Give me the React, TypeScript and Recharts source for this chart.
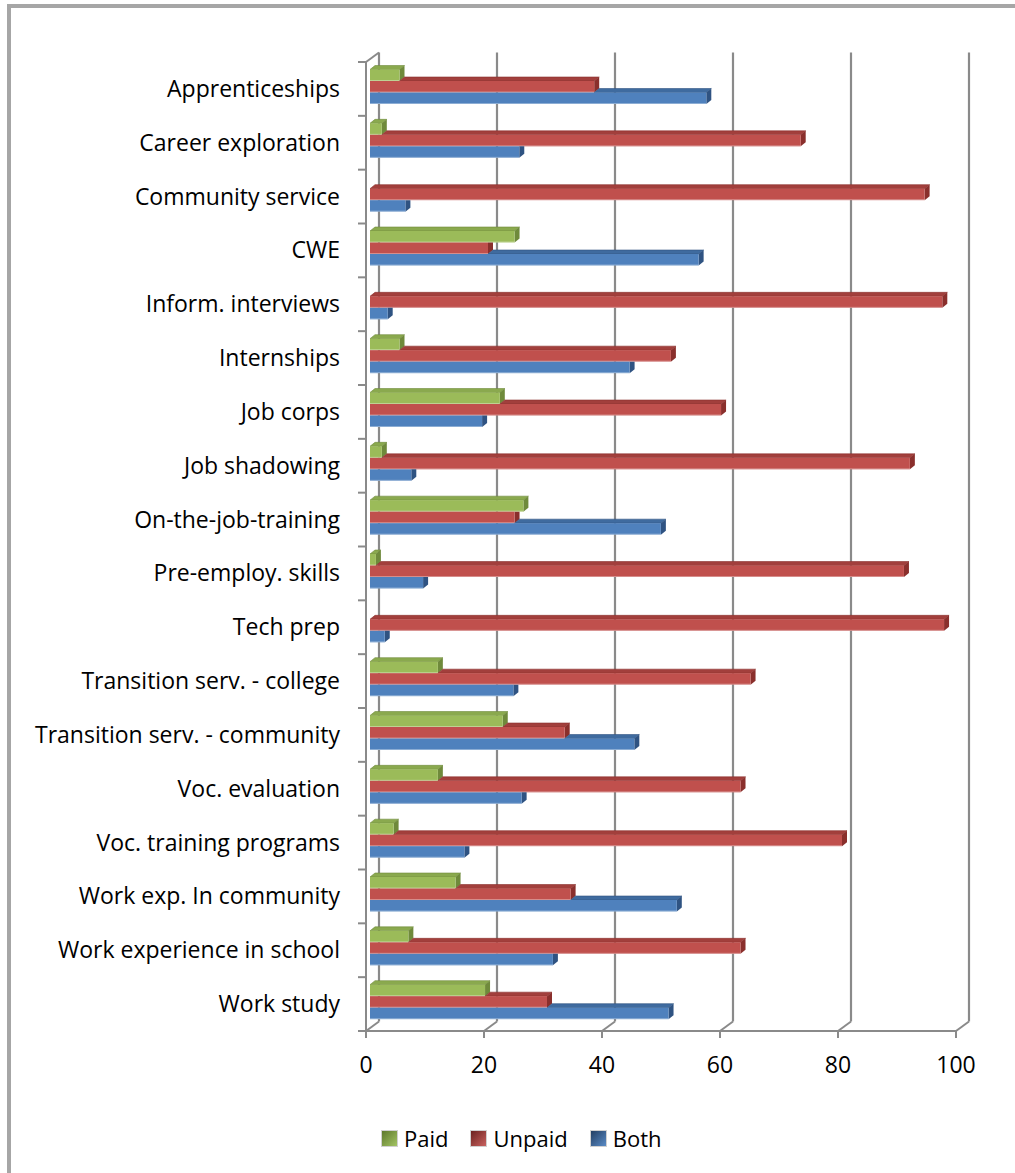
import { BarChart, Bar, XAxis, YAxis, CartesianGrid } from 'recharts';

const categories = [
  'Apprenticeships',
  'Career exploration',
  'Community service',
  'CWE',
  'Inform. interviews',
  'Internships',
  'Job corps',
  'Job shadowing',
  'On-the-job-training',
  'Pre-employ. skills',
  'Tech prep',
  'Transition serv. - college',
  'Transition serv. - community',
  'Voc. evaluation',
  'Voc. training programs',
  'Work exp. In community',
  'Work experience in school',
  'Work study',
];

const paid = [5, 2, 0, 24.5, 0, 5, 22, 2, 26, 1, 0, 11.5, 22.5, 11.5, 4, 14.5, 6.5, 19.5];
const unpaid = [38, 73, 94, 20, 97, 51, 59.5, 91.5, 24.5, 90.5, 97.3, 64.5, 33, 62.8, 80, 34, 62.8, 30];
const both = [57, 25.3, 6, 55.7, 3, 44, 19, 7, 49.3, 9, 2.5, 24.3, 44.8, 25.7, 16, 52, 31, 50.6];

const xTicks = [0, 20, 40, 60, 80, 100];

const series = [
  { key: 'paid', name: 'Paid', front: '#9bbb59', top: '#8aa94e', side: '#6f8a3b', upper: null as string | null, legendFrom: '#5d782c', legendTo: '#a3c463' },
  { key: 'unpaid', name: 'Unpaid', front: '#c0504d', top: '#a23f3c', side: '#8a2f2c', upper: 'paid', legendFrom: '#6b2220', legendTo: '#c9625f' },
  { key: 'both', name: 'Both', front: '#4f81bd', top: '#3f6b9f', side: '#2f5382', upper: 'unpaid', legendFrom: '#233f63', legendTo: '#5a8bc6' },
];

const data = categories.map((name, i) => ({
  name,
  paid: paid[i],
  unpaid: unpaid[i],
  both: both[i],
}));

const W = 1015;
const H = 1173;
const PLOT_LEFT = 366;
const PLOT_TOP = 62;
const PLOT_RIGHT = 956;
const PLOT_BOTTOM = 1031;
const BAND = (PLOT_BOTTOM - PLOT_TOP) / categories.length;

// depth of the 3D walls (front -> back)
const WALL_DX = 13;
const WALL_DY = -9.5;
// bars sit a little behind the front plane
const BAR_DX = 4;
const BAR_DY = -2.5;
// depth of each bar
const DEPTH_DX = 5;
const DEPTH_DY = -4;

const AXIS_COLOR = '#8a8a8a';
const FONT = '"Open Sans", Lato, sans-serif';
const LABEL_SIZE = 23;

const make3DBar = (s: typeof series[number]) => (props: any) => {
  const { x, y, width, height, payload } = props;
  if (!width || width <= 0.3) return null;
  const fx = x + BAR_DX;
  const fy = y + BAR_DY;
  const w = width;
  const h = height;
  const value = payload[s.key];
  const upperVal = s.upper ? payload[s.upper] : 0;
  const upperW = value > 0 ? (w * upperVal) / value : 0;
  const topStart = fx + Math.min(upperW, w + DEPTH_DX);
  const covered = upperVal > value;

  const topPts = `${topStart},${fy} ${topStart + DEPTH_DX},${fy + DEPTH_DY} ${fx + w + DEPTH_DX},${fy + DEPTH_DY} ${fx + w},${fy}`;
  const sidePts = covered
    ? `${fx + w},${fy} ${fx + w + DEPTH_DX},${fy} ${fx + w + DEPTH_DX},${fy + h + DEPTH_DY} ${fx + w},${fy + h}`
    : `${fx + w},${fy} ${fx + w + DEPTH_DX},${fy + DEPTH_DY} ${fx + w + DEPTH_DX},${fy + h + DEPTH_DY} ${fx + w},${fy + h}`;

  return (
    <g>
      {topStart < fx + w && <polygon points={topPts} fill={s.top} stroke={s.side} strokeWidth={0.6} />}
      <polygon points={sidePts} fill={s.side} />
      <rect x={fx} y={fy} width={w} height={h} fill={s.front} />
      <line x1={fx} y1={fy + h - 0.5} x2={fx + w} y2={fy + h - 0.5} stroke="#ffffff" strokeOpacity={0.35} strokeWidth={1} />
    </g>
  );
};

const CategoryTick = (props: any) => {
  const { x, y, payload, index } = props;
  const top = y - BAND / 2;
  const last = index === categories.length - 1;
  return (
    <g>
      <text x={x} y={y + 8} textAnchor="end" fill="#000" fontSize={LABEL_SIZE} fontFamily={FONT}>
        {payload.value}
      </text>
      <line x1={PLOT_LEFT - 8} y1={top} x2={PLOT_LEFT} y2={top} stroke={AXIS_COLOR} strokeWidth={2} />
      {last && <line x1={PLOT_LEFT - 8} y1={top + BAND} x2={PLOT_LEFT} y2={top + BAND} stroke={AXIS_COLOR} strokeWidth={2} />}
      {index === 0 && (
        <line x1={PLOT_LEFT} y1={top} x2={PLOT_LEFT + WALL_DX} y2={top + WALL_DY} stroke={AXIS_COLOR} strokeWidth={2} />
      )}
    </g>
  );
};

const ValueTick = (props: any) => {
  const { x, y, payload } = props;
  return (
    <text x={x} y={y} dy={16} textAnchor="middle" fill="#000" fontSize={LABEL_SIZE} fontFamily={FONT}>
      {payload.value}
    </text>
  );
};

const BackGridLine = (props: any) => {
  const { x1, y1, x2, y2 } = props;
  return (
    <g>
      <line x1={x1 + WALL_DX} y1={y1 + WALL_DY} x2={x2 + WALL_DX} y2={y2 + WALL_DY} stroke={AXIS_COLOR} strokeWidth={2.2} />
      <line x1={x2} y1={y2} x2={x2 + WALL_DX} y2={y2 + WALL_DY} stroke={AXIS_COLOR} strokeWidth={2} />
    </g>
  );
};

const App = () => {
  return (
    <div
      style={{
        position: 'absolute',
        left: 0,
        top: 0,
        width: W,
        height: H,
        overflow: 'hidden',
        background: '#fff',
        fontFamily: FONT,
      }}
    >
      {/* chart area frame, only left and top edges are visible */}
      <div
        style={{
          position: 'absolute',
          left: 7,
          top: 4,
          width: W + 50,
          height: H + 50,
          borderLeft: '4px solid #a6a6a6',
          borderTop: '4px solid #a6a6a6',
        }}
      />
      <div style={{ position: 'absolute', left: 0, top: 0 }}>
        <BarChart
          width={W}
          height={H}
          data={data}
          layout="vertical"
          margin={{ top: PLOT_TOP, left: 0, right: W - PLOT_RIGHT, bottom: H - PLOT_BOTTOM - 30 }}
          barSize={11.5}
          barGap={0}
        >
          <CartesianGrid horizontal={false} vertical={BackGridLine} />
          <XAxis
            type="number"
            domain={[0, 100]}
            ticks={xTicks}
            height={30}
            axisLine={{ stroke: AXIS_COLOR, strokeWidth: 2 }}
            tickLine={{ stroke: AXIS_COLOR, strokeWidth: 2 }}
            tickSize={7}
            tickMargin={19}
            tick={<ValueTick />}
            interval={0}
          />
          <YAxis
            type="category"
            dataKey="name"
            width={PLOT_LEFT}
            axisLine={{ stroke: AXIS_COLOR, strokeWidth: 2 }}
            tickLine={false}
            tickSize={8}
            tickMargin={18}
            tick={<CategoryTick />}
            interval={0}
          />
          {series.map((s) => (
            <Bar
              key={s.key}
              dataKey={s.key}
              name={s.name}
              fill={s.front}
              shape={make3DBar(s)}
              isAnimationActive={false}
            />
          ))}
        </BarChart>
      </div>
      {/* legend */}
      <div
        style={{
          position: 'absolute',
          left: 382,
          top: 1124,
          display: 'flex',
          alignItems: 'center',
          fontSize: 22,
          color: '#000',
          lineHeight: '28px',
        }}
      >
        {series.map((s) => (
          <div key={s.key} style={{ display: 'flex', alignItems: 'center', marginRight: 23 }}>
            <span
              style={{
                display: 'inline-block',
                width: 15,
                height: 15,
                marginRight: 7,
                background: `linear-gradient(135deg, ${s.legendFrom}, ${s.legendTo})`,
                boxShadow: '0 0 0 1px #d0d0d0',
              }}
            />
            <span>{s.name}</span>
          </div>
        ))}
      </div>
    </div>
  );
};

export default App;
